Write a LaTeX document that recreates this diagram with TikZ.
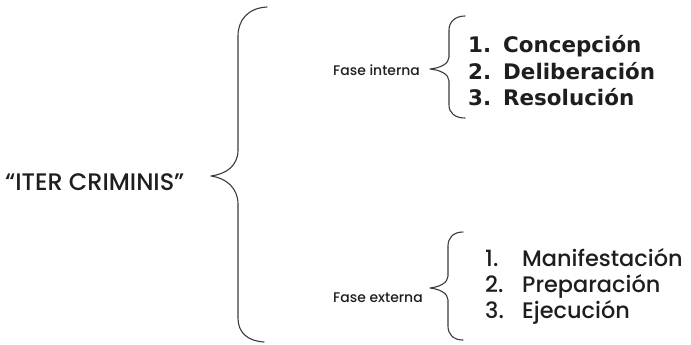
\documentclass[tikz,border=0pt]{standalone}
\usepackage{fontspec}
\setmainfont{Poppins Medium}
\newfontfamily\listfont{DejaVu Sans}
\definecolor{ink}{HTML}{1E1E1E}
\definecolor{bracegray}{HTML}{3A3A3A}
\tikzset{
  txt/.style={anchor=base west, inner sep=0pt, text=ink},
  title/.style={txt, font=\fontsize{24}{24}\selectfont},
  phase/.style={txt, font=\fontsize{14}{14}\selectfont},
  stepA/.style={txt, font=\listfont\bfseries\fontsize{21.5}{21.5}\selectfont},
  stepB/.style={txt, font=\fontsize{22.5}{22.5}\selectfont},
  brace line/.style={draw=bracegray, line width=1.1pt, line cap=round, line join=round},
}
\begin{document}
\begin{tikzpicture}[x=1bp, y=-1bp]
\useasboundingbox (0,0) rectangle (691,344);

% main label
\node[title] (iter) at (5,190) {“ITER CRIMINIS”};

% first-level phases
\node[phase] (fi) at (333,75) {Fase interna};
\node[phase] (fe) at (333,302) {Fase externa};

% internal phase steps
\node[stepA] (a1n) at (468,52) {1.};
\node[stepA] (a1) at (503,52) {Concepción};
\node[stepA] (a2n) at (468,79) {2.};
\node[stepA] (a2) at (503,79) {Deliberación};
\node[stepA] (a3n) at (468,105) {3.};
\node[stepA] (a3) at (503,105) {Resolución};

% external phase steps
\node[stepB] (b1n) at (485,266) {1.};
\node[stepB] (b1) at (522,266) {Manifestación};
\node[stepB] (b2n) at (485,292) {2.};
\node[stepB] (b2) at (522,292) {Preparación};
\node[stepB] (b3n) at (485,318) {3.};
\node[stepB] (b3) at (522,318) {Ejecución};

% large brace
\coordinate (bt) at (267,7);
\coordinate (bm) at (211,176);
\coordinate (bb) at (264,342);
\draw[brace line] (bt) .. controls (248,8) and (238,20) .. (238,36)
  -- (238,150) .. controls (238,166) and (226,174) .. (bm)
  .. controls (226,178) and (238,188) .. (238,204)
  -- (238,318) .. controls (238,333) and (248,341) .. (bb);

% brace of the internal phase
\coordinate (it) at (465,16);
\coordinate (im) at (430,69);
\coordinate (ib) at (465,118);
\draw[brace line] (it) .. controls (455,16) and (449,22) .. (449,30)
  -- (449,57) .. controls (449,64) and (440,68) .. (im)
  .. controls (440,70) and (449,74) .. (449,81)
  -- (449,105) .. controls (449,113) and (455,118) .. (ib);

% brace of the external phase
\coordinate (et) at (463,232);
\coordinate (em) at (430,288);
\coordinate (eb) at (463,340);
\draw[brace line] (et) .. controls (453,232) and (448,238) .. (448,246)
  -- (448,276) .. controls (448,283) and (439,287) .. (em)
  .. controls (439,289) and (448,293) .. (448,300)
  -- (448,326) .. controls (448,334) and (453,340) .. (eb);
\end{tikzpicture}
\end{document}
